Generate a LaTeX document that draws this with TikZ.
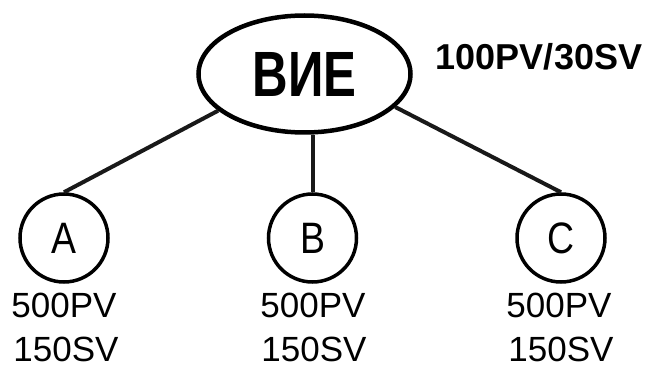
\documentclass[tikz,border=0pt]{standalone}
\usepackage{fontspec}
\usepackage{graphicx}
\setmainfont{Liberation Sans}
\usetikzlibrary{shapes.geometric}
\tikzset{
  top/.style={ellipse, draw, line width=4.5pt, minimum width=212pt, minimum height=117pt, inner sep=0pt},
  member/.style={circle, draw, line width=3.5pt, minimum size=88pt, inner sep=0pt, font=\fontsize{44}{44}\selectfont},
  vol/.style={font=\fontsize{35}{35}\selectfont, inner sep=0pt, anchor=base},
  link/.style={line width=4pt, draw=black!90}
}
\begin{document}
\begin{tikzpicture}[x=1pt,y=-1pt]
\useasboundingbox (0,0) rectangle (649,369);
\node[top] (e) at (304.5,74) {\fontsize{64}{64}\selectfont\bfseries\scalebox{0.77}[1]{ВИЕ}};
\node[font=\fontsize{36}{36}\selectfont\bfseries, inner sep=0pt, anchor=base] (pv) at (539,70) {100PV/30SV};
\node[member] (a) at (64,238) {\scalebox{0.85}[1]{A}};
\node[member] (b) at (312.5,238) {\scalebox{0.85}[1]{B}};
\node[member] (c) at (561,238) {\scalebox{0.85}[1]{C}};
\node[vol] (apv) at (64,317) {500PV};
\node[vol] (asv) at (66,361) {150SV};
\node[vol] (bpv) at (313,317) {500PV};
\node[vol] (bsv) at (314,361) {150SV};
\node[vol] (cpv) at (559,317) {500PV};
\node[vol] (csv) at (561,361) {150SV};
\draw[link] (e.203.5) -- (a.north);
\draw[link] (e.south -| b.north) -- (b.north);
\draw[link] (e.-20) -- (c.north);
\end{tikzpicture}
\end{document}
